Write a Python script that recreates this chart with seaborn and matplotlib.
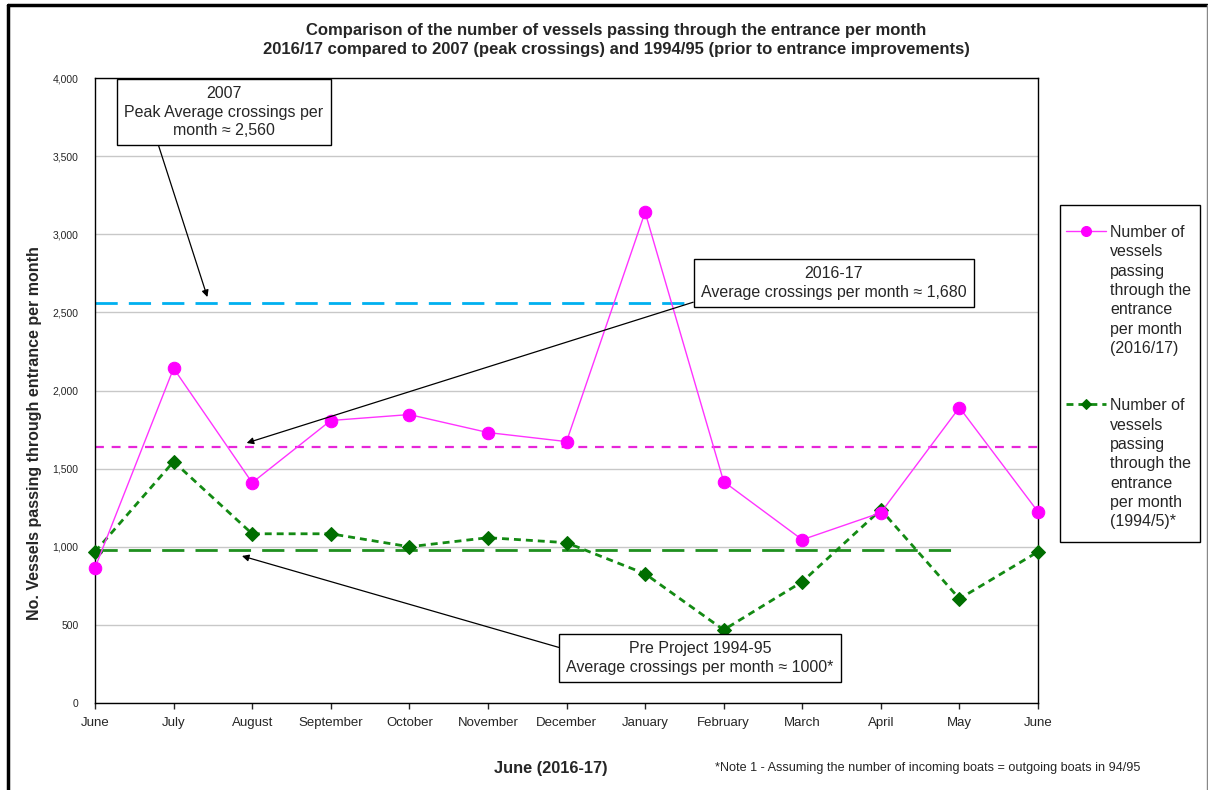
import numpy as np
import pandas as pd
import matplotlib
matplotlib.use("Agg")
import matplotlib.pyplot as plt
import seaborn as sns
from matplotlib.lines import Line2D
from matplotlib.patches import Rectangle
from matplotlib.ticker import FuncFormatter

# ---------------- data ----------------
months = ["June", "July", "August", "September", "October", "November", "December",
          "January", "February", "March", "April", "May", "June"]
vessels_2016_17 = [865, 2142, 1410, 1808, 1846, 1731, 1673, 3141, 1417, 1045, 1218, 1891, 1224]
vessels_1994_95 = [968, 1545, 1083, 1083, 1000, 1058, 1026, 827, 468, 776, 1237, 667, 968]
peak_2007 = 2560
avg_2016_17_line = 1640
avg_1994_95_line = 980
series_labels = ["Number of\nvessels\npassing\nthrough the\nentrance\nper month\n(2016/17)",
                 "Number of\nvessels\npassing\nthrough the\nentrance\nper month\n(1994/5)*"]
y_ticks = [0, 500, 1000, 1500, 2000, 2500, 3000, 3500, 4000]

sns.set_style("white")
plt.rcParams['font.family'] = ['Liberation Sans', 'DejaVu Sans']

W, H = 1208, 790
fig = plt.figure(figsize=(W / 100, H / 100), dpi=100)
ax = fig.add_axes([95 / W, 1 - 703 / H, (1038 - 95) / W, (703 - 78) / H])

pos = list(range(len(months)))
df = pd.DataFrame({"pos": pos, "v16": vessels_2016_17, "v94": vessels_1994_95})

# grid
ax.set_ylim(0, 4000)
ax.set_xlim(0, len(months) - 1)
ax.set_yticks(y_ticks)
ax.yaxis.grid(True, color="#c8c8c8", lw=1)
ax.xaxis.grid(False)
ax.set_axisbelow(True)

# reference lines
x_end_short = 10.94
ax.hlines(peak_2007, 0, x_end_short, colors="#00B0F0", lw=2, linestyles=(0, (8, 4)), zorder=2)
ax.hlines(avg_1994_95_line, 0, x_end_short, colors="#1F8F1F", lw=2, linestyles=(0, (8, 4)), zorder=2)
ax.hlines(avg_2016_17_line, 0, len(months) - 1, colors="#E626D9", lw=1.6, linestyles=(0, (4, 3.5)), zorder=2)

sns.lineplot(data=df, x="pos", y="v94", ax=ax, color="#138A13", lw=2, linestyle=(0, (2.5, 1.8)),
             marker="D", markersize=7, markerfacecolor="#006E00", markeredgecolor="#006E00",
             label=series_labels[1], zorder=4, clip_on=False)
sns.lineplot(data=df, x="pos", y="v16", ax=ax, color="#FF33FF", lw=1,
             marker="o", markersize=9, markerfacecolor="#FF00FF", markeredgecolor="#FF00FF",
             label=series_labels[0], zorder=5, clip_on=False)

ax.set_xticks(pos)
ax.set_xticklabels(months, fontsize=9.5)
ax.yaxis.set_major_formatter(FuncFormatter(lambda v, p: f"{int(v):,}"))
ax.tick_params(axis="y", labelsize=7.5, length=0, pad=12)
ax.tick_params(axis="x", length=4, width=1, direction="out", bottom=True, pad=6)
ax.set_xlabel("")
ax.set_ylabel("No. Vessels passing through entrance per month", fontsize=11.5,
              fontweight="bold")
ax.yaxis.set_label_coords(-0.056, 0.432)
for s in ax.spines.values():
    s.set_visible(True)
    s.set_color("black")
    s.set_linewidth(1)

# legend (outside, on figure) with a separately drawn frame
handles, labels = ax.get_legend_handles_labels()
ax.get_legend().remove()
order = [labels.index(series_labels[0]), labels.index(series_labels[1])]
leg = fig.legend([handles[i] for i in order], [labels[i] for i in order],
                 loc="upper left", bbox_to_anchor=(1066 / W, 1 - 225 / H),
                 fontsize=11.5, frameon=False, handlelength=2.5,
                 handletextpad=0.25, labelspacing=2.65, borderpad=0, borderaxespad=0,
                 markerscale=0.8)
for t in leg.get_texts():
    t.set_linespacing(1.36)
for vp in leg._legend_handle_box.get_children():
    for hp in vp.get_children():
        hp.align = "top"
fig.add_artist(Rectangle((1060 / W, 1 - 542 / H), 140 / W, (542 - 205) / H,
                         transform=fig.transFigure, fill=False, ec="black", lw=1))

# annotations
def ann(text, xy, xytext, relpos):
    ax.annotate(text, xy=xy, xytext=xytext, ha="center", va="center", fontsize=11.5,
                linespacing=1.3,
                bbox=dict(boxstyle="square,pad=0.45", fc="white", ec="black", lw=1),
                arrowprops=dict(arrowstyle="-|>", color="black", lw=0.9, relpos=relpos,
                                mutation_scale=10, shrinkA=0, shrinkB=0),
                zorder=6)

ann("2007\nPeak Average crossings per\nmonth \u2248 2,560", (1.43, 2598), (1.64, 3782), (0.16, 0.0))
ann("2016-17\nAverage crossings per month \u2248 1,680", (1.93, 1664), (9.40, 2688), (0.0, 0.0))
ann("Pre Project 1994-95\nAverage crossings per month \u2248 1000*", (1.87, 941), (7.70, 288), (0.0, 0.75))

# titles and texts
fig.text(616 / W, 1 - 40 / H,
         "Comparison of the number of vessels passing through the entrance per month\n"
         "2016/17 compared to 2007 (peak crossings) and 1994/95 (prior to entrance improvements)",
         ha="center", va="center", fontsize=12, fontweight="bold", linespacing=1.3)
fig.text(551 / W, 1 - 768 / H, "June (2016-17)", ha="center", va="center",
         fontsize=11.8, fontweight="bold")
fig.text(715 / W, 1 - 768 / H,
         "*Note 1 - Assuming the number of incoming boats = outgoing boats in 94/95",
         ha="left", va="center", fontsize=9.1)

# outer frame
fig.add_artist(Line2D([8 / W, 1207 / W], [1 - 5 / H, 1 - 5 / H], transform=fig.transFigure,
                      color="black", lw=2.5))
fig.add_artist(Line2D([8 / W, 8 / W], [0, 1 - 5 / H], transform=fig.transFigure,
                      color="black", lw=2.5))
fig.add_artist(Line2D([1206.5 / W, 1206.5 / W], [0, 1 - 5 / H], transform=fig.transFigure,
                      color="#888888", lw=1))

fig.savefig("out.png", dpi=100)
